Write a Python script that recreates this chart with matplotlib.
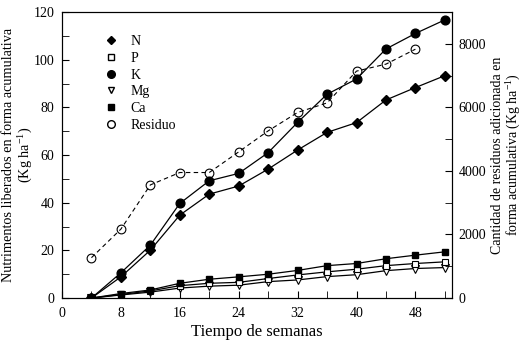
import matplotlib.pyplot as plt
from matplotlib.lines import Line2D
from matplotlib.ticker import MultipleLocator

plt.rcParams['font.family'] = 'Liberation Serif'
plt.rcParams['mathtext.fontset'] = 'custom'
plt.rcParams['mathtext.rm'] = 'Liberation Serif'

semanas = [4, 8, 12, 16, 20, 24, 28, 32, 36, 40, 44, 48, 52]
n_val = [0, 8.9, 20.1, 34.8, 43.6, 47.0, 54.1, 62.1, 69.5, 73.6, 83.1, 88.3, 93.3]
p_val = [0, 1.5, 3.0, 5.2, 6.2, 6.6, 8.2, 9.7, 11.0, 12.1, 13.6, 14.5, 15.2]
k_val = [0, 10.6, 22.2, 39.7, 49.2, 52.3, 61.0, 73.7, 85.5, 91.9, 104.5, 111.0, 116.7]
mg_val = [0, 1.3, 2.5, 4.2, 5.0, 5.4, 6.9, 7.6, 9.0, 9.8, 11.5, 12.4, 12.8]
ca_val = [0, 1.9, 3.4, 6.2, 7.9, 8.9, 10.0, 11.6, 13.6, 14.5, 16.5, 18.0, 19.4]

sem_res = [4, 8, 12, 16, 20, 24, 28, 32, 36, 40, 44, 48]
residuo = [1270, 2170, 3560, 3950, 3950, 4600, 5260, 5840, 6140, 7140, 7360, 7830]

fig = plt.figure(figsize=(5.21, 3.43), dpi=100)
ax = fig.add_axes([0.119, 0.131, 0.749, 0.834])
ax2 = ax.twinx()

lw = 0.9
ax.plot(semanas, mg_val, color='black', lw=lw, marker='v', ms=5.5, mfc='white', mec='black', mew=0.8)
ax.plot(semanas, p_val, color='black', lw=lw, marker='s', ms=5, mfc='white', mec='black', mew=0.8)
ax.plot(semanas, ca_val, color='black', lw=lw, marker='s', ms=5, mfc='black', mec='black')
ax.plot(semanas, n_val, color='black', lw=lw, marker='D', ms=5, mfc='black', mec='black')
ax.plot(semanas, k_val, color='black', lw=lw, marker='o', ms=6.3, mfc='black', mec='black')
ax2.plot(sem_res, residuo, color='black', lw=0.8, ls=(0, (4, 3)), marker='o', ms=6.3,
         mfc='none', mec='black', mew=0.8)

ax.set_xlim(0, 53)
ax.set_ylim(0, 120)
ax2.set_ylim(0, 9000)
ax.xaxis.set_major_locator(MultipleLocator(8))
ax.xaxis.set_minor_locator(MultipleLocator(4))
ax.yaxis.set_major_locator(MultipleLocator(20))
ax.yaxis.set_minor_locator(MultipleLocator(10))
ax2.yaxis.set_major_locator(MultipleLocator(2000))
ax2.yaxis.set_minor_locator(MultipleLocator(1000))

ax.tick_params(axis='x', which='both', direction='in', top=False, labelsize=10, length=5, pad=6.5)
ax.tick_params(axis='y', which='both', direction='in', right=False, labelsize=10, length=5, pad=5.5)
ax2.tick_params(axis='y', which='both', direction='in', labelsize=10, length=5, pad=4.5)

ax.set_xlabel('Tiempo de semanas', fontsize=12, labelpad=3)
ax.set_ylabel('Nutrimentos liberados en forma acumulativa\n(Kg ha$^{\\mathregular{-1}}$)',
              fontsize=10.3, linespacing=1.0)
ax.yaxis.set_label_coords(-0.072, 0.5)
ax2.set_ylabel('Cantidad de residuos adicionada en\nforma acumulativa (Kg ha$^{\\mathregular{-1}}$)',
               fontsize=10, linespacing=0.92)
ax2.yaxis.set_label_coords(1.1, 0.5)

handles = [
    Line2D([], [], ls='none', marker='D', ms=4.5, mfc='black', mec='black'),
    Line2D([], [], ls='none', marker='s', ms=4.5, mfc='white', mec='black'),
    Line2D([], [], ls='none', marker='o', ms=5.5, mfc='black', mec='black'),
    Line2D([], [], ls='none', marker='v', ms=5, mfc='white', mec='black'),
    Line2D([], [], ls='none', marker='s', ms=4.5, mfc='black', mec='black'),
    Line2D([], [], ls='none', marker='o', ms=5.5, mfc='white', mec='black'),
]
labels = ['N', 'P', 'K', 'Mg', 'Ca', 'Residuo']
ax.legend(handles, labels, loc='upper left', bbox_to_anchor=(0.075, 0.963), frameon=False,
          fontsize=10, handletextpad=0.9, labelspacing=0.27, handlelength=1.0)

fig.savefig('out.png', dpi=100)
